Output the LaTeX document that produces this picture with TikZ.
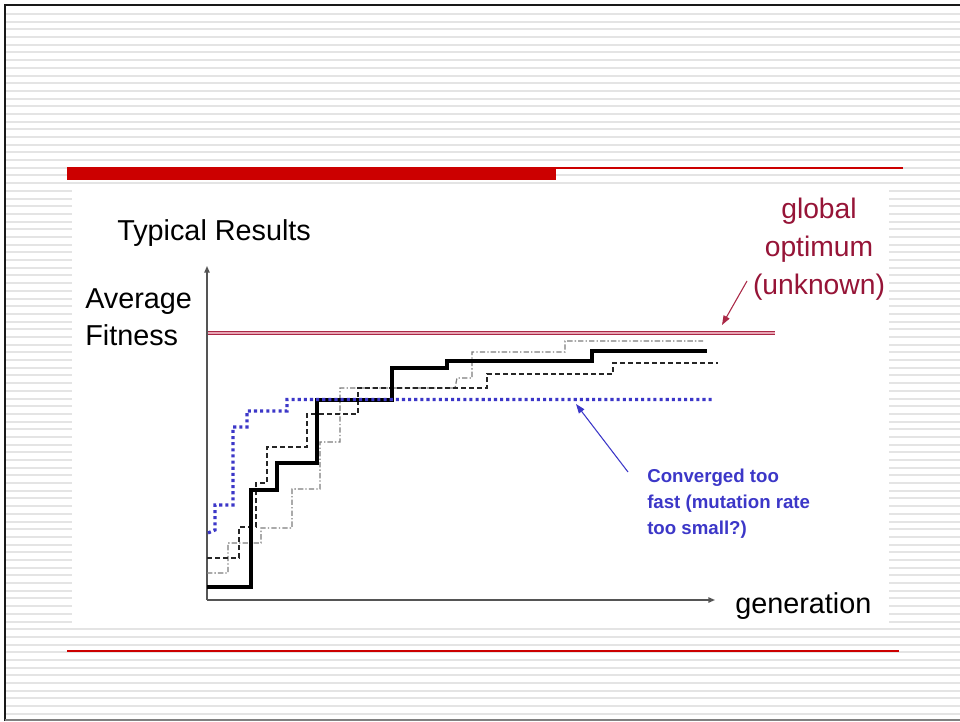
\documentclass[tikz,border=0pt]{standalone}
\usepackage{fontspec}
\setmainfont{Liberation Sans}
\usetikzlibrary{arrows.meta}
\definecolor{barred}{RGB}{204,0,0}
\definecolor{optred}{RGB}{150,20,55}
\definecolor{optline}{RGB}{170,40,70}
\definecolor{optpink}{RGB}{232,165,180}
\definecolor{convblue}{RGB}{60,55,200}
\definecolor{stripecol}{RGB}{228,228,228}
\definecolor{axisgray}{RGB}{85,85,85}
\definecolor{curvegray}{RGB}{125,125,125}
\begin{document}
\begin{tikzpicture}[x=0.75pt,y=-0.75pt,
  stripeline/.style={stripecol,line width=1.5pt},
  axisline/.style={axisgray,line width=1.1pt,-{Triangle[length=5pt,width=4pt]}},
  bigtext/.style={font=\fontsize{21.6}{26}\selectfont,inner sep=0pt,anchor=base west},
  optlabel/.style={optred,font=\fontsize{21.2}{26}\selectfont,inner sep=0pt,anchor=base},
  convlabel/.style={convblue,font=\fontsize{14}{16}\selectfont\bfseries,inner sep=0pt,anchor=base west},
  runsolid/.style={black,line width=2.5pt,line join=miter},
  rundashed/.style={black!85,line width=1pt,dash pattern=on 3.8pt off 2.2pt},
  rundashdot/.style={curvegray,line width=0.9pt,dash pattern=on 4pt off 1.6pt on 1pt off 1.6pt},
  rundotted/.style={convblue,line width=2.4pt,dash pattern=on 2.3pt off 2.3pt},
  pointer/.style={line width=0.8pt,-{Triangle[length=7pt,width=5pt]}}
]
\useasboundingbox (0,0) rectangle (960,721);
\fill[white] (0,0) rectangle (960,721);
% striped background
\foreach \k in {0,...,91} {
  \draw[stripeline] (5,{14+7.69*\k}) -- (960,{14+7.69*\k});
}
% frame
\draw[black!90,line width=1.5pt] (4.5,721) -- (4.5,4.5) -- (960,4.5);
\draw[gray,line width=1.3pt] (4.5,720) -- (960,720);
% title bar
\fill[barred] (67,166.5) rectangle (556,180);
\draw[barred,line width=1.5pt] (556,167.5) -- (903,167.5);
% white panel
\fill[white] (72,186) rectangle (889,624);
% bottom rule
\draw[barred,line width=1pt] (67,651) -- (899,651);

% texts
\node[bigtext] (title) at (117,240) {Typical Results};
\node[bigtext] (ylab1) at (85,308) {Average};
\node[bigtext] (ylab2) at (85,345) {Fitness};
\node[bigtext] (xlab) at (735,613) {generation};
\node[optlabel] (opt1) at (819,218) {global};
\node[optlabel] (opt2) at (819,256) {optimum};
\node[optlabel] (opt3) at (819,294) {(unknown)};
\node[convlabel] (conv1) at (647,482) {Converged too};
\node[convlabel] (conv2) at (647,508) {fast (mutation rate};
\node[convlabel] (conv3) at (647,534) {too small?)};

% axes
\coordinate (O) at (207,600);
\coordinate (ytip) at (207,266);
\coordinate (xtip) at (715,600);
\draw[axisline] (O) -- (ytip);
\draw[axisline] (O) -- (xtip);

% global optimum line
\coordinate (optL) at (208,333);
\coordinate (optR) at (775,333);
\draw[optline,line width=3.4pt] (optL) -- (optR);
\draw[optpink,line width=1.1pt] (optL) -- (optR);

% runs
\draw[rundashdot] (207,573) -- (228,573) -- (228,543) -- (261,543) -- (261,528) -- (292,528) -- (292,489) -- (320,489) -- (320,442) -- (340,442) -- (340,388) -- (455,388) -- (457,378) -- (472,378) -- (472,352) -- (565,352) -- (565,341) -- (703,341);
\draw[rundashed] (207,558) -- (239,558) -- (239,527) -- (256,527) -- (256,483) -- (267,483) -- (267,447) -- (307,447) -- (307,414) -- (358,414) -- (358,388) -- (487,388) -- (487,374) -- (613,374) -- (613,363) -- (718,363);
\draw[runsolid] (207,587) -- (251,587) -- (251,490) -- (277,490) -- (277,463) -- (317,463) -- (317,400) -- (392,400) -- (392,368) -- (447,368) -- (447,361) -- (592,361) -- (592,351) -- (707,351);
\draw[rundotted] (208,533) -- (215,530) -- (215,505) -- (233,505) -- (233,427) -- (247,427) -- (247,411) -- (287,411) -- (287,399.5) -- (712,399.5);

% pointers
\coordinate (optArrowStart) at (747,281);
\coordinate (optArrowEnd) at (722,325);
\draw[pointer,optline] (optArrowStart) -- (optArrowEnd);
\coordinate (convArrowStart) at (628,472);
\coordinate (convArrowEnd) at (576,404);
\draw[pointer,convblue] (convArrowStart) -- (convArrowEnd);
\end{tikzpicture}
\end{document}
